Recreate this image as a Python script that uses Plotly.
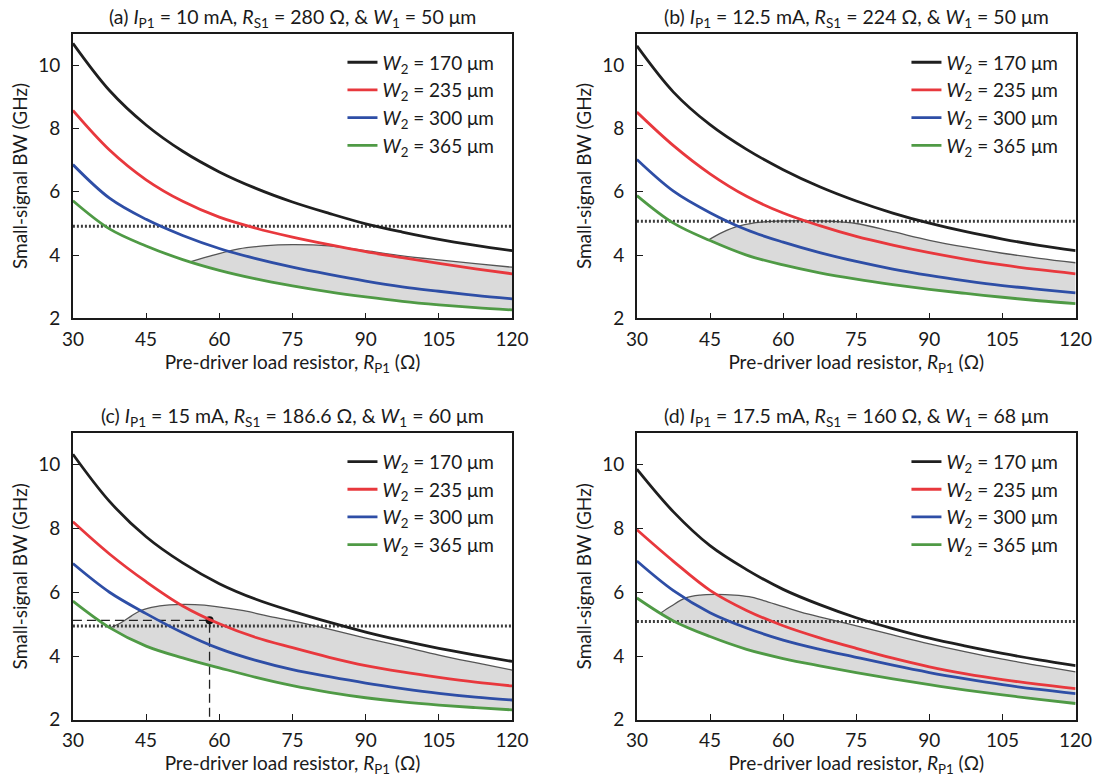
import plotly.graph_objects as go

# ---------------- data ----------------
R = [30, 37.5, 45, 52.5, 60, 67.5, 75, 82.5, 90, 97.5, 105, 112.5, 120]
W2_labels = ["170", "235", "300", "365"]

a_black = [10.69, 9.20, 8.11, 7.28, 6.63, 6.11, 5.68, 5.32, 4.99, 4.73, 4.50, 4.31, 4.14]
a_red = [8.57, 7.32, 6.38, 5.70, 5.20, 4.85, 4.57, 4.33, 4.11, 3.92, 3.74, 3.57, 3.41]
a_blue = [6.86, 5.80, 5.13, 4.62, 4.21, 3.89, 3.62, 3.39, 3.18, 3.00, 2.86, 2.73, 2.62]
a_green = [5.72, 4.83, 4.29, 3.86, 3.52, 3.25, 3.03, 2.84, 2.68, 2.54, 2.43, 2.34, 2.27]
a_top_R = [54, 59, 64, 69, 75, 82.5, 90, 97.5, 105, 112.5, 120]
a_top = [3.79, 4.01, 4.20, 4.29, 4.33, 4.29, 4.14, 3.98, 3.85, 3.73, 3.62]

b_black = [10.61, 9.15, 8.12, 7.34, 6.70, 6.16, 5.71, 5.33, 5.01, 4.74, 4.51, 4.31, 4.14]
b_red = [8.52, 7.46, 6.57, 5.86, 5.33, 4.93, 4.59, 4.32, 4.08, 3.87, 3.69, 3.54, 3.41]
b_blue = [7.02, 6.02, 5.34, 4.80, 4.41, 4.08, 3.80, 3.56, 3.36, 3.19, 3.04, 2.92, 2.81]
b_green = [5.88, 5.01, 4.46, 4.00, 3.69, 3.44, 3.24, 3.07, 2.92, 2.79, 2.67, 2.56, 2.47]
b_top_R = [44.6, 47, 50, 53, 56, 60, 65, 70, 75, 82.5, 90, 97.5, 105, 112.5, 120]
b_top = [4.47, 4.68, 4.88, 4.99, 5.05, 5.08, 5.09, 5.07, 5.00, 4.74, 4.47, 4.25, 4.06, 3.90, 3.76]

c_black = [10.33, 8.85, 7.74, 6.92, 6.27, 5.78, 5.40, 5.06, 4.75, 4.48, 4.24, 4.03, 3.83]
c_red = [8.21, 7.20, 6.33, 5.57, 5.01, 4.58, 4.26, 3.96, 3.70, 3.50, 3.33, 3.18, 3.06]
c_blue = [6.90, 6.00, 5.33, 4.73, 4.23, 3.86, 3.57, 3.35, 3.15, 2.98, 2.83, 2.71, 2.62]
c_green = [5.72, 4.89, 4.31, 3.94, 3.63, 3.33, 3.07, 2.86, 2.69, 2.56, 2.46, 2.38, 2.31]
c_top_R = [37.6, 40, 42, 44, 47, 51, 55, 59, 65, 70, 75, 82.5, 90, 97.5, 105, 112.5, 120]
c_top = [4.88, 5.06, 5.26, 5.43, 5.55, 5.61, 5.61, 5.56, 5.42, 5.25, 5.10, 4.84, 4.56, 4.30, 4.03, 3.79, 3.56]

d_black = [9.86, 8.52, 7.46, 6.71, 6.09, 5.61, 5.20, 4.86, 4.56, 4.31, 4.08, 3.88, 3.70]
d_red = [7.96, 6.97, 6.06, 5.43, 4.95, 4.57, 4.24, 3.93, 3.66, 3.44, 3.26, 3.11, 2.98]
d_blue = [6.98, 6.05, 5.36, 4.88, 4.50, 4.21, 3.96, 3.71, 3.48, 3.28, 3.10, 2.95, 2.82]
d_green = [5.82, 5.10, 4.61, 4.21, 3.92, 3.69, 3.48, 3.28, 3.10, 2.93, 2.78, 2.64, 2.51]
d_top_R = [34.9, 37, 40, 43, 46, 50, 53, 56, 60, 65, 70, 76.5, 82.5, 90, 97.5, 105, 112.5, 120]
d_top = [5.35, 5.56, 5.82, 5.91, 5.93, 5.91, 5.86, 5.74, 5.55, 5.32, 5.13, 4.89, 4.66, 4.38, 4.13, 3.90, 3.70, 3.50]

dotted_levels = [4.91, 5.07, 4.94, 5.08]
design_R = 58.0
design_BW = 5.12

titles = [
    "(a) <i>I</i><sub>P1</sub> = 10 mA, <i>R</i><sub>S1</sub> = 280 Ω, & <i>W</i><sub>1</sub> = 50 μm",
    "(b) <i>I</i><sub>P1</sub> = 12.5 mA, <i>R</i><sub>S1</sub> = 224 Ω, & <i>W</i><sub>1</sub> = 50 μm",
    "(c) <i>I</i><sub>P1</sub> = 15 mA, <i>R</i><sub>S1</sub> = 186.6 Ω, & <i>W</i><sub>1</sub> = 60 μm",
    "(d) <i>I</i><sub>P1</sub> = 17.5 mA, <i>R</i><sub>S1</sub> = 160 Ω, & <i>W</i><sub>1</sub> = 68 μm",
]
x_ticks = [30, 45, 60, 75, 90, 105, 120]
y_ticks = [2, 4, 6, 8, 10]

# ---------------- style ----------------
FONT = "Lato"
FS = 19
colors = ["#1f1f1f", "#e8383d", "#2e4ea6", "#4f9a45"]
W, H = 1116, 784
x_doms = [[63.5 / W, 514 / W], [642 / W, 1092 / W]]
y_doms = [[1 - 323 / H, 1 - 34 / H], [1 - 730 / H, 1 - 439 / H]]
title_y = [1 - 18 / H, 1 - 423 / H]
legend_pos = [(340 / W, 1 - 44 / H), (918.5 / W, 1 - 44 / H),
              (340 / W, 1 - 449 / H), (918.5 / W, 1 - 449 / H)]

panels = [
    (a_black, a_red, a_blue, a_green, a_top_R, a_top),
    (b_black, b_red, b_blue, b_green, b_top_R, b_top),
    (c_black, c_red, c_blue, c_green, c_top_R, c_top),
    (d_black, d_red, d_blue, d_green, d_top_R, d_top),
]

fig = go.Figure()
layout = dict(
    width=W, height=H, margin=dict(l=0, r=0, t=0, b=0),
    paper_bgcolor="white", plot_bgcolor="white",
    font=dict(family=FONT, size=FS, color="#1a1a1a"),
    annotations=[],
)

for i, (blk, red, blu, grn, top_R, top) in enumerate(panels):
    col = i % 2
    row = i // 2
    sfx = "" if i == 0 else str(i + 1)
    xa, ya = "x" + sfx, "y" + sfx
    lg = "legend" + sfx

    # shaded region: bottom along green curve, top boundary line
    start_R, start_v = top_R[0], top[0]
    bot_x = [start_R] + [r for r in R if r > start_R]
    bot_y = [start_v] + [v for r, v in zip(R, grn) if r > start_R]
    fig.add_trace(go.Scatter(x=bot_x, y=bot_y, mode="lines", line=dict(width=0, shape="spline"),
                             showlegend=False, xaxis=xa, yaxis=ya, hoverinfo="skip"))
    fig.add_trace(go.Scatter(x=top_R, y=top, mode="lines", fill="tonexty", fillcolor="#dadada",
                             line=dict(width=1.3, color="#555555", shape="spline"),
                             showlegend=False, xaxis=xa, yaxis=ya, hoverinfo="skip"))
    # dotted target line
    fig.add_trace(go.Scatter(x=[R[0], R[-1]], y=[dotted_levels[i]] * 2, mode="lines",
                             line=dict(width=3, color="#3c3c3c", dash="2px,2px"),
                             showlegend=False, xaxis=xa, yaxis=ya))
    if i == 2:
        fig.add_trace(go.Scatter(x=[R[0], design_R, design_R], y=[design_BW, design_BW, y_ticks[0]],
                                 mode="lines", line=dict(width=1.3, color="#222222", dash="9px,5px"),
                                 showlegend=False, xaxis=xa, yaxis=ya))
        fig.add_trace(go.Scatter(x=[design_R], y=[design_BW], mode="markers",
                                 marker=dict(size=8, color="#111111"),
                                 showlegend=False, xaxis=xa, yaxis=ya))
    for s, (vals, c) in enumerate(zip([blk, red, blu, grn], colors)):
        fig.add_trace(go.Scatter(
            x=R, y=vals, mode="lines", line=dict(width=2.8, color=c, shape="spline", smoothing=1.0),
            name=f"<i>W</i><sub>2</sub> = {W2_labels[s]} μm",
            legend=lg, showlegend=True, xaxis=xa, yaxis=ya))

    axis_common = dict(showgrid=False, zeroline=False, showline=True, linecolor="#1a1a1a",
                       linewidth=1.5, mirror=True, ticks="inside", ticklen=6, tickwidth=1.3,
                       tickcolor="#1a1a1a", tickfont=dict(size=FS, family=FONT))
    layout["xaxis" + sfx] = dict(
        domain=x_doms[col], range=[R[0], R[-1]], anchor=ya, tickvals=x_ticks, ticklabelstandoff=3,
        title=dict(text="Pre-driver load resistor, <i>R</i><sub>P1</sub> (Ω)",
                   font=dict(size=FS), standoff=6),
        **axis_common)
    layout["yaxis" + sfx] = dict(
        domain=y_doms[row], range=[2, 11], anchor=xa, tickvals=y_ticks, ticklabelstandoff=7,
        title=dict(text="Small-signal BW (GHz)", font=dict(size=FS), standoff=6),
        **axis_common)
    lx, ly = legend_pos[i]
    layout[lg] = dict(x=lx, y=ly, xanchor="left", yanchor="top", bgcolor="rgba(0,0,0,0)",
                      font=dict(size=FS, family=FONT), traceorder="normal")
    layout["annotations"].append(dict(
        text=titles[i], x=sum(x_doms[col]) / 2, y=title_y[row],
        xref="paper", yref="paper", showarrow=False, xanchor="center", yanchor="middle",
        font=dict(size=19.5, family=FONT)))

fig.update_layout(**layout)
fig.write_html("out.html", config={"displayModeBar": False},
               post_script="document.body.style.margin='0';document.body.style.overflow='hidden';")
